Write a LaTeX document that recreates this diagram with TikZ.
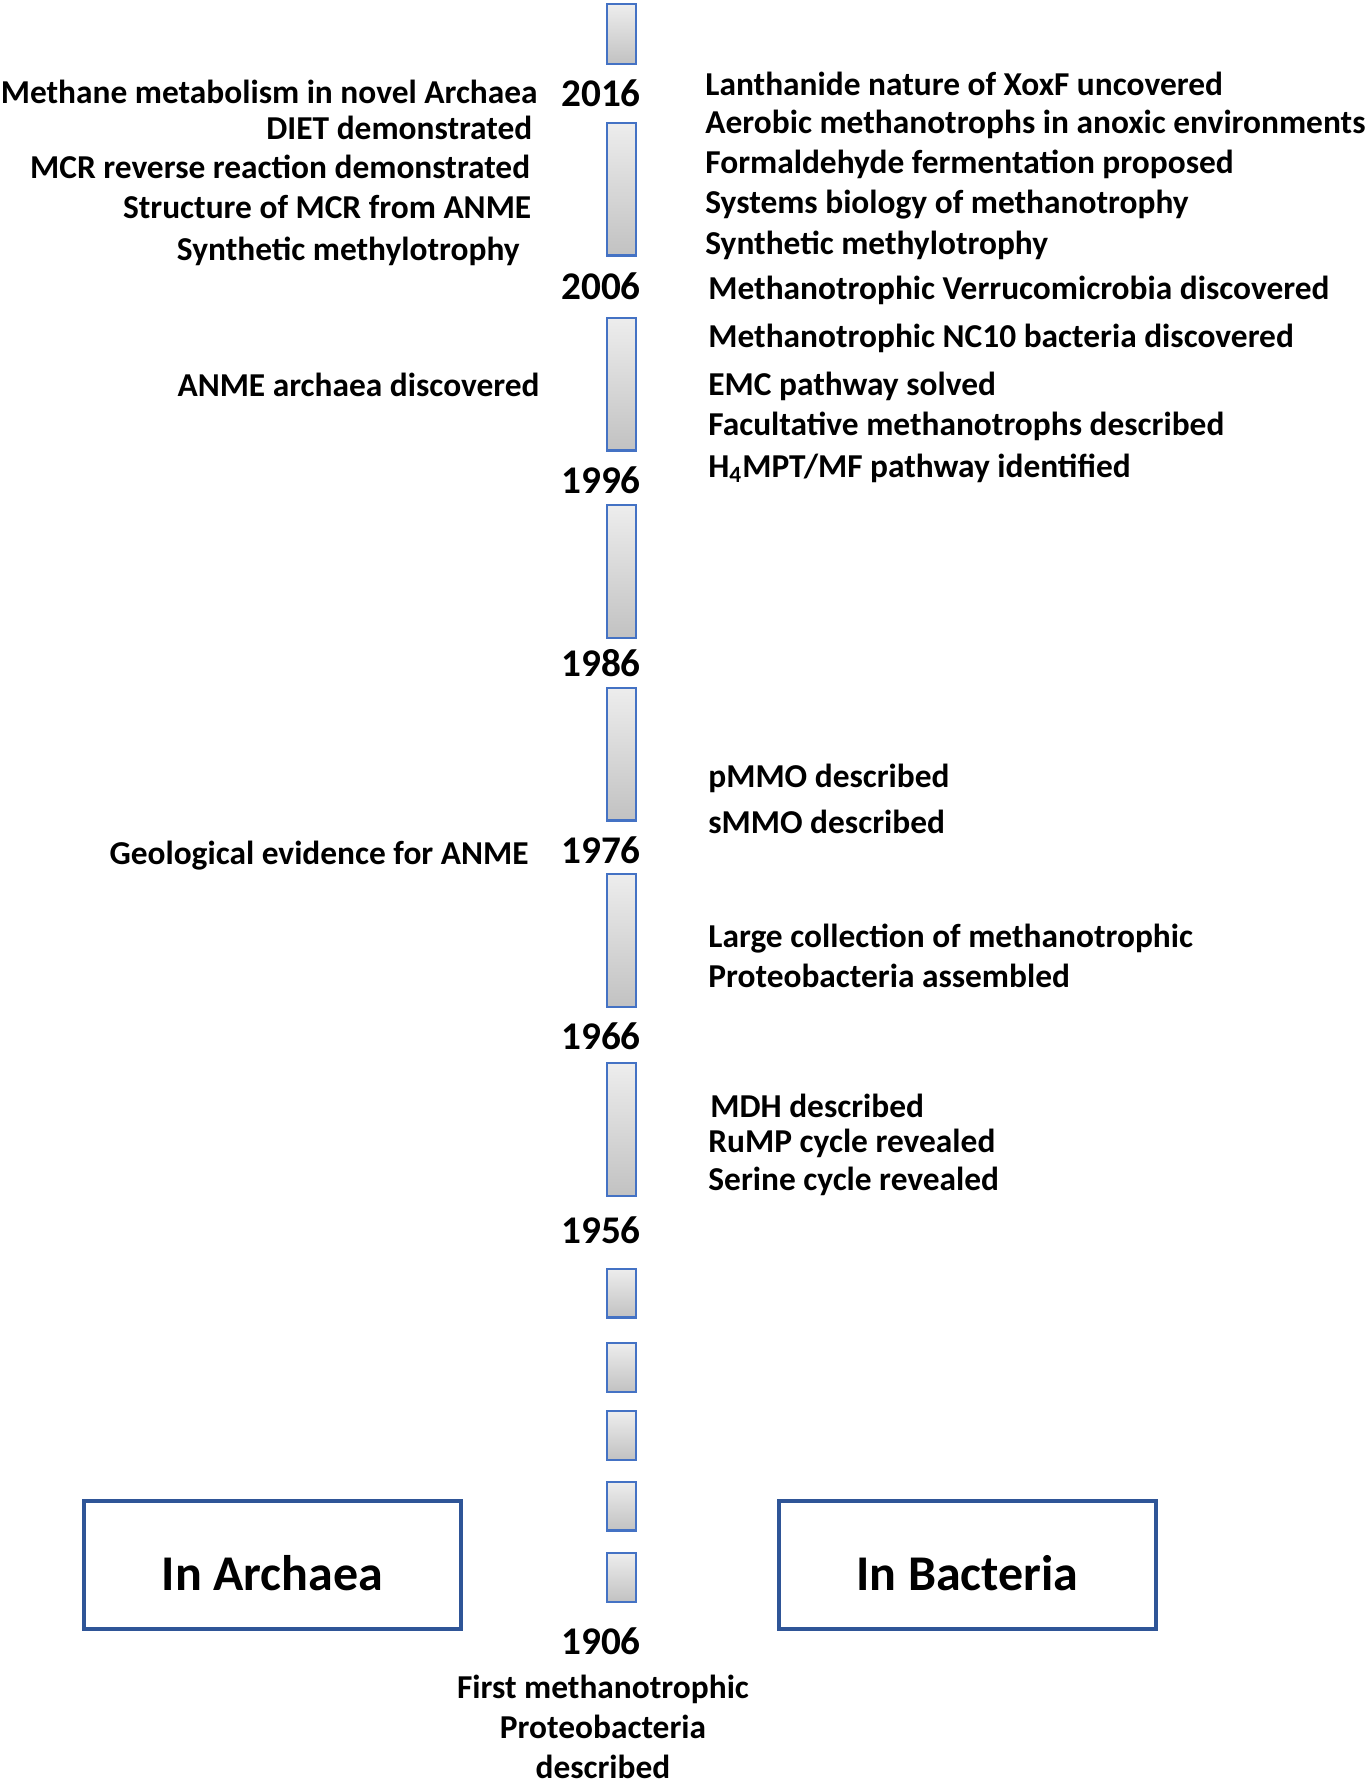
\documentclass[tikz,border=0pt]{standalone}
\usepackage{fontspec}
\setmainfont{Carlito}
\usetikzlibrary{positioning}
\definecolor{barblue}{RGB}{68,114,196}
\definecolor{boxblue}{RGB}{47,85,151}

\begin{document}
\begin{tikzpicture}[
  x=0.5pt, y=-0.5pt,
  bar/.style={draw=barblue, line width=1.2pt, top color=black!7, bottom color=black!24, minimum width=14.3pt, inner sep=0pt},
  longbar/.style={bar, minimum height=66.3pt},
  shortbar/.style={bar, minimum height=24.3pt},
  year/.style={font=\bfseries\fontsize{19.6}{23}\selectfont, anchor=base, inner sep=0pt, yshift=-0.9pt},
  event/.style={font=\bfseries\fontsize{16.7}{20}\selectfont, inner sep=0pt, yshift=-1pt},
  eventR/.style={event, anchor=base west},
  eventL/.style={event, anchor=base east},
  group/.style={draw=boxblue, line width=2pt, minimum width=188.5pt, minimum height=64pt, inner sep=0pt},
  grouplabel/.style={font=\bfseries\fontsize{25}{30}\selectfont, inner sep=0pt}
]
\useasboundingbox (0,0) rectangle (1371,1788);

% timeline bars
\node[bar, minimum height=29.8pt] (bar1) at (621.5,34) {};
\node[longbar] (bar2) at (621.5,189) {};
\node[longbar] (bar3) at (621.5,384) {};
\node[longbar] (bar4) at (621.5,571.5) {};
\node[longbar] (bar5) at (621.5,754) {};
\node[longbar] (bar6) at (621.5,940.5) {};
\node[longbar] (bar7) at (621.5,1129.5) {};
\node[shortbar] (bar8) at (621.5,1293) {};
\node[shortbar] (bar9) at (621.5,1367.5) {};
\node[shortbar] (bar10) at (621.5,1435.5) {};
\node[shortbar] (bar11) at (621.5,1506) {};
\node[shortbar] (bar12) at (621.5,1577.5) {};

% years
\node[year] (y2016) at (601,105) {2016};
\node[year] (y2006) at (601,297.5) {2006};
\node[year] (y1996) at (601,491.5) {1996};
\node[year] (y1986) at (601,675) {1986};
\node[year] (y1976) at (601,861.5) {1976};
\node[year] (y1966) at (601,1047.5) {1966};
\node[year] (y1956) at (601,1241.5) {1956};
\node[year] (y1906) at (601,1653) {1906};

% archaea side
\node[eventL] (arch1) at (538,101.7) {Methane metabolism in novel Archaea};
\node[eventL] (arch2) at (532.7,137) {DIET demonstrated};
\node[eventL] (arch3) at (530.7,176.7) {MCR reverse reaction demonstrated};
\node[eventL] (arch4) at (531.7,216.7) {Structure of MCR from ANME};
\node[eventL] (arch5) at (520,258) {Synthetic methylotrophy};
\node[eventL] (arch6) at (540,394) {ANME archaea discovered};
\node[eventL] (arch7) at (529,862) {Geological evidence for ANME};

% bacteria side
\node[eventR] (bact1) at (705,93.3) {Lanthanide nature of XoxF uncovered};
\node[eventR] (bact2) at (705,131) {Aerobic methanotrophs in anoxic environments};
\node[eventR] (bact3) at (705,171) {Formaldehyde fermentation proposed};
\node[eventR] (bact4) at (705,211) {Systems biology of methanotrophy};
\node[eventR] (bact5) at (705,252.7) {Synthetic methylotrophy};
\node[eventR] (bact6) at (708,297) {Methanotrophic Verrucomicrobia discovered};
\node[eventR] (bact7) at (708,345.7) {Methanotrophic NC10 bacteria discovered};
\node[eventR] (bact8) at (708,393) {EMC pathway solved};
\node[eventR] (bact9) at (708,433) {Facultative methanotrophs described};
\node[eventR] (bact10) at (708,475) {H\textsubscript{4}MPT/MF pathway identified};
\node[eventR] (bact11) at (708,785) {pMMO described};
\node[eventR] (bact12) at (708,831.7) {sMMO described};
\node[eventR] (bact13) at (708,945) {Large collection of methanotrophic};
\node[eventR] (bact14) at (708,985) {Proteobacteria assembled};
\node[eventR] (bact15) at (710,1115) {MDH described};
\node[eventR] (bact16) at (708,1150) {RuMP cycle revealed};
\node[eventR] (bact17) at (708,1188) {Serine cycle revealed};

\node[event, anchor=north, align=center] (first) at (603,1672.5) {First methanotrophic\\ Proteobacteria\\ described};

% domain boxes
\node[group] (archaea) at (272.5,1565) {};
\node[grouplabel] at ([yshift=-4pt]archaea.center) {In Archaea};
\node[group] (bacteria) at (967.5,1565) {};
\node[grouplabel] at ([yshift=-4pt]bacteria.center) {In Bacteria};
\end{tikzpicture}
\end{document}
